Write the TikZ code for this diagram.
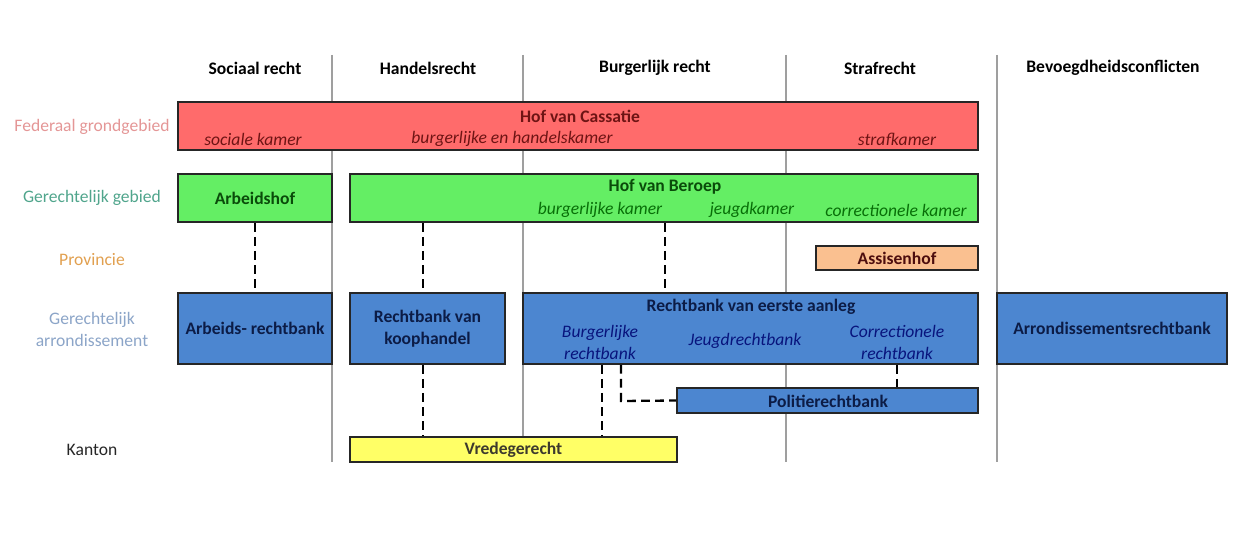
\documentclass[tikz,border=0pt]{standalone}
\usepackage{fontspec}
\setmainfont{Carlito}
\usetikzlibrary{fit}

\definecolor{cassred}{RGB}{255,107,107}
\definecolor{cassdark}{RGB}{110,20,20}
\definecolor{beroepgreen}{RGB}{100,238,100}
\definecolor{beroepdark}{RGB}{10,75,10}
\definecolor{assisorange}{RGB}{250,192,144}
\definecolor{rbblue}{RGB}{76,134,208}
\definecolor{rbdark}{RGB}{12,28,70}
\definecolor{vredeyellow}{RGB}{255,255,102}
\definecolor{lblred}{RGB}{228,150,150}
\definecolor{lblgreen}{RGB}{80,165,140}
\definecolor{lblorange}{RGB}{225,160,80}
\definecolor{lblblue}{RGB}{140,165,200}

\begin{document}
\begin{tikzpicture}[x=0.02cm,y=-0.02cm,font={\fontsize{10}{12.5}\selectfont},
  court/.style={draw=black!85,line width=1pt,inner sep=0pt},
  title/.style={font={\fontsize{10}{12.5}\selectfont\bfseries},align=center},
  chamber/.style={font={\fontsize{10}{12.5}\selectfont\itshape},align=center},
  link/.style={line width=1.3pt,dash pattern=on 5pt off 3pt}]
\useasboundingbox (0,0) rectangle (1235,536);
\foreach \x in {332,523,786,997}
  \draw[gray!75,line width=0.6pt] (\x,55) -- (\x,462);
\node[title] (hsoc) at (255,68) {Sociaal recht};
\node[title] (hhan) at (428,68) {Handelsrecht};
\node[title] (hbur) at (655,68) {Burgerlijk recht};
\node[title] (hstr) at (880,68) {Strafrecht};
\node[title] (hbev) at (1113,68) {Bevoegdheidsconflicten};
\node[text=lblred] (rfed) at (92,127) {Federaal grondgebied};
\node[text=lblgreen] (rger) at (92,198) {Gerechtelijk gebied};
\node[text=lblorange] (rpro) at (92,260) {Provincie};
\node[text=lblblue,align=center] (rarr) at (92,329) {Gerechtelijk\\arrondissement};
\node[text=black!85] (rkan) at (92,450) {Kanton};
\node[court,fill=cassred,fit={(178,102) (978,150)}] (cass) {};
\node[title,text=cassdark] (casst) at (580,116) {Hof van Cassatie};
\node[chamber,text=cassdark] (cass1) at (253,139) {sociale kamer};
\node[chamber,text=cassdark] (cass2) at (512,139) {burgerlijke en handelskamer};
\node[chamber,text=cassdark] (cass3) at (897,139) {strafkamer};
\node[court,fill=beroepgreen,fit={(178,174) (332,222)}] (arbhof) {};
\node[title,text=beroepdark] (arbhoft) at (arbhof.center) {Arbeidshof};
\node[court,fill=beroepgreen,fit={(350,174) (978,222)}] (beroep) {};
\node[title,text=beroepdark] (beroept) at (665,187) {Hof van Beroep};
\node[chamber,text=beroepdark!80!green] (ber1) at (600,210) {burgerlijke kamer};
\node[chamber,text=beroepdark!80!green] (ber2) at (752,210) {jeugdkamer};
\node[chamber,text=beroepdark!80!green] (ber3) at (896,210) {correctionele kamer};
\node[court,fill=assisorange,fit={(816,246) (978,270)}] (assis) {};
\node[title,text=cassdark!70!black] (assist) at (assis.center) {Assisenhof};
\node[court,fill=rbblue,fit={(178,293) (332,364)}] (arbrb) {};
\node[title,text=rbdark] (arbrbt) at (arbrb.center) {Arbeids- rechtbank};
\node[court,fill=rbblue,fit={(350,293) (505,364)}] (koop) {};
\node[title,text=rbdark] (koopt) at (koop.center) {Rechtbank van\\koophandel};
\node[court,fill=rbblue,fit={(523,293) (978,364)}] (eerste) {};
\node[title,text=rbdark] (eerstet) at (751,307) {Rechtbank van eerste aanleg};
\node[chamber,text=rbdark!70!blue] (burgrb) at (600,342) {Burgerlijke\\rechtbank};
\node[chamber,text=rbdark!70!blue] (jeugdrb) at (745,341) {Jeugdrechtbank};
\node[chamber,text=rbdark!70!blue] (corrrb) at (897,342) {Correctionele\\rechtbank};
\node[court,fill=rbblue,fit={(997,293) (1227,364)}] (arrrb) {};
\node[title,text=rbdark] (arrrbt) at (arrrb.center) {Arrondissementsrechtbank};
\node[court,fill=rbblue,fit={(677,388) (978,413)}] (politie) {};
\node[title,text=rbdark] (politiet) at (828,401) {Politierechtbank};
\node[court,fill=vredeyellow,fit={(350,437) (677,462)}] (vrede) {};
\node[title,text=black!75!olive] (vredet) at (vrede.center) {Vredegerecht};
\coordinate (pk) at (621,401);
\draw[link] (arbhof.south) -- (arbrb.north);
\draw[link] (beroep.south -| 423,0) -- (koop.north -| 423,0);
\draw[link] (beroep.south -| 665,0) -- (eerste.north -| 665,0);
\draw[link] (koop.south -| 423,0) -- (vrede.north -| 423,0);
\draw[link] (eerste.south -| 602,0) -- (vrede.north -| 602,0);
\draw[link] (eerste.south -| pk) -- (pk) -- (politie.west);
\draw[link] (eerste.south -| corrrb) -- (politie.north -| corrrb);
\end{tikzpicture}
\end{document}
